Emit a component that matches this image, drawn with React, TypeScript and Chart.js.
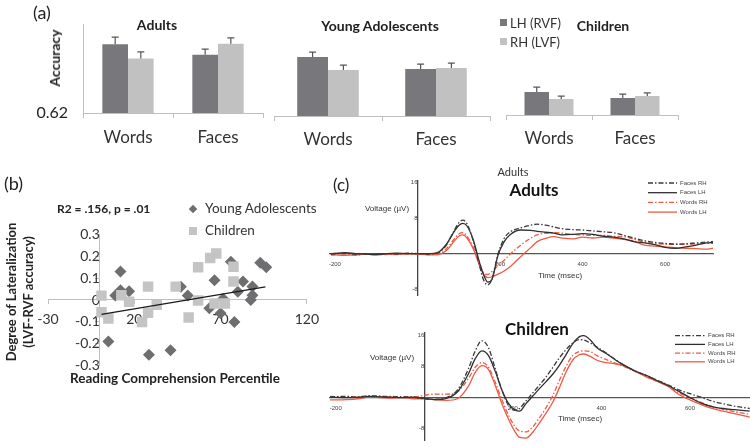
import React, { useEffect, useRef } from 'react';
import { Chart, registerables } from 'chart.js';

Chart.register(...registerables);

const FONT = 'Lato, "Open Sans", sans-serif';
const SMALL_FONT = '"Liberation Sans", Arial, sans-serif';
Chart.defaults.font.family = FONT;

// ---------- Panel (a) data ----------
const barCategories = ['Words', 'Faces'];
const adultsLH = [0.915, 0.870];
const adultsRH = [0.854, 0.918];
const adultsLHErr = [0.031, 0.025];
const adultsRHErr = [0.029, 0.025];
const youngLH = [0.861, 0.812];
const youngRH = [0.808, 0.816];
const youngLHErr = [0.02, 0.02];
const youngRHErr = [0.02, 0.02];
const childLH = [0.714, 0.689];
const childRH = [0.685, 0.698];
const childLHErr = [0.02, 0.016];
const childRHErr = [0.012, 0.012];
const accuracyTicks = [0.62];

// ---------- Panel (b) data ----------
const youngX = [12, 9, 12, 17, 5, 28.5, 41, 47, 51, 66.5, 76, 93, 96.5, 83, 88.5, 80, 88.5, 87.5, 71.5, 63.5, 70, 78];
const youngY = [0.13, 0.02, 0.045, 0.04, -0.19, -0.25, -0.23, 0.06, 0.02, 0.09, 0.175, 0.17, 0.15, 0.084, 0.062, 0.038, 0.022, 0.0, 0.006, -0.038, -0.06, -0.1];
const childX = [1, 1, 5, 12.5, 17, 28, 28, 24.5, 33, 44, 51.5, 57, 57, 64, 67.5, 77.5, 77.5, 66.5, 72.5];
const childY = [0.02, -0.056, -0.084, 0.022, -0.008, 0.061, -0.058, -0.1, -0.022, 0.061, -0.08, 0.15, -0.002, 0.192, 0.212, 0.152, 0.084, -0.016, -0.016];
const trendX = [1, 96];
const trendY = [-0.066, 0.06];
const scatterXTicks = [-30, 20, 70, 120];
const scatterYTicks = [0.3, 0.2, 0.1, 0, -0.1, -0.2, -0.3];

// ---------- Panel (c) data ----------
const erpTimeTicks = [-200, 200, 400, 600];
const erpVoltTicks = [16, 8, -8];

const adultTimes = [-210, -175, -150, -125, -100, -75, -50, -25, 0, 25, 50, 70, 90, 100, 110, 120, 135, 150, 160, 170, 180, 195, 210, 225, 250, 275, 290, 310, 330, 350, 375, 400, 425, 450, 475, 500, 525, 550, 575, 600, 625, 650, 675, 700, 716];
const adultFacesRH = [0.1, 0.2, 0, 0.1, 0, 0.1, 0, 0.2, 0.1, 0, 0.3, 2, 5.5, 7, 7.6, 6.8, 3, -2.5, -5.8, -6.9, -5.8, 0, 3.5, 5, 5.9, 6.5, 6.7, 6.5, 6.1, 5.7, 5.5, 5.4, 5.2, 5.0, 4.8, 4.2, 3.6, 3.0, 2.6, 2.4, 2.2, 2.3, 2.5, 2.7, 2.8];
const adultFacesLH = [0, 0.3, 0.1, 0, -0.1, 0.1, 0.2, 0.1, 0.1, 0.1, 0.4, 2.2, 5.2, 6.4, 6.9, 6.3, 3.2, -1.8, -4.6, -6.3, -5.8, -0.3, 2.8, 4.4, 5.4, 5.3, 5.1, 4.9, 4.7, 4.3, 4.4, 4.6, 4.4, 4.0, 3.8, 3.4, 2.8, 2.5, 2.1, 1.5, 1.3, 1.6, 2.0, 2.5, 2.6];
const adultWordsRH = [-0.2, 0, -0.3, 0.1, 0, -0.1, 0.1, 0, 0, -0.1, 0, 1.2, 3.5, 4.5, 4.8, 4.0, 1.5, -2, -4.2, -4.6, -4.0, -2.6, -1.4, 0, 2, 3.6, 4.3, 4.7, 4.8, 4.7, 4.4, 4.3, 4.2, 4.2, 4.0, 3.9, 3.3, 2.7, 2.4, 2.2, 2.2, 2.2, 2.3, 2.4, 2.4];
const adultWordsLH = [-0.1, -0.3, -0.2, 0, -0.2, 0, -0.1, 0.1, 0, -0.2, -0.1, 0.8, 3.0, 4.0, 4.3, 3.6, 1.2, -2.5, -4.5, -5.3, -5.1, -4.5, -3.8, -2.8, -0.6, 1.5, 2.8, 3.5, 3.9, 3.6, 3.4, 3.8, 3.6, 3.8, 3.6, 3.3, 2.8, 2.0, 1.8, 1.6, 1.4, 1.3, 1.2, 1.1, 1.3];

const childTimes = [-213, -175, -150, -125, -100, -75, -50, -25, 0, 25, 50, 75, 100, 115, 130, 145, 160, 175, 190, 205, 215, 230, 245, 260, 275, 290, 305, 320, 335, 350, 360, 375, 390, 410, 430, 450, 475, 500, 525, 550, 575, 600, 625, 650, 675, 700, 735];
const childFacesRH = [0.2, 0.3, 0.1, 0.4, 0.3, 0.1, 0.2, 0.1, -0.3, -0.4, 0, 2, 7.5, 12, 14.6, 12.8, 7.5, 2, -2, -3.3, -2.8, -0.8, 1.2, 3.2, 5.3, 7.7, 10.2, 12.3, 14, 14.9, 14.8, 14, 13, 11.5, 9.9, 8.4, 6.9, 5.7, 4.5, 3.3, 2.0, 1.0, 0.1, -0.9, -1.6, -2.2, -2.8];
const childFacesLH = [0.1, 0, 0.1, 0.3, 0.2, 0.1, 0, 0.1, -0.2, -0.5, -0.2, 1.5, 6.2, 10, 12, 10.8, 6.8, 2, -1.5, -3.2, -3.5, -1.5, 0.4, 2.3, 4.1, 6.0, 8.3, 11, 13.8, 15.6, 15.9, 14.8, 12.8, 11.4, 9.8, 8.4, 6.9, 5.8, 4.4, 3.1, 1.6, 0, -1.4, -2.3, -2.8, -3.1, -3.5];
const childWordsRH = [0.3, 0.1, 0.2, 0.5, 0.4, 0.3, 0.2, 0.1, 0.6, 0.9, 0.9, 1.5, 5, 7.8, 9, 7.8, 4, -0.5, -4.5, -7.5, -8.6, -8.8, -7.5, -5.2, -2.6, 0.5, 4.4, 8, 10.8, 11.8, 12, 11.8, 10.8, 9.8, 8.9, 8, 6.8, 5.6, 4.2, 3.0, 1.2, 0, -1.2, -2.3, -3.0, -3.6, -4.3];
const childWordsLH = [-0.6, -0.5, -0.3, 0.1, 0, -0.1, 0, -0.3, -0.3, -0.6, -0.7, -0.3, 3, 6.5, 8.2, 7.2, 3.2, -1.5, -5.5, -8.8, -10.2, -10.4, -8.9, -6.5, -4.0, -1.2, 2.5, 6.5, 9.6, 11.0, 11.2, 10.6, 9.6, 9.0, 8.7, 8.2, 6.8, 5.4, 4.2, 2.9, 0.8, -0.6, -1.8, -2.8, -3.5, -4.1, -5.0];

// ---------- styles ----------
const LH_COLOR = '#78787c';
const RH_COLOR = '#c1c1c1';
const AXIS = '#bfbfbf';
const DIAMOND = '#6e6e71';
const SQUARE = '#c4c4c4';
const BLACK = '#2e2e2e';
const RED = '#ef5a44';
const DASHDOT = [5, 2, 1.5, 2];

const errorBarPlugin = {
  id: 'errorBars',
  afterDatasetsDraw(chart: any) {
    const ctx = chart.ctx;
    const y = chart.scales.y;
    chart.data.datasets.forEach((ds: any, i: number) => {
      const meta = chart.getDatasetMeta(i);
      if (!ds.errors) return;
      meta.data.forEach((bar: any, j: number) => {
        const top = y.getPixelForValue(ds.data[j] + ds.errors[j]);
        ctx.save();
        ctx.strokeStyle = '#555';
        ctx.lineWidth = 1.2;
        ctx.beginPath();
        ctx.moveTo(bar.x, bar.y);
        ctx.lineTo(bar.x, top);
        ctx.moveTo(bar.x - 3.5, top);
        ctx.lineTo(bar.x + 3.5, top);
        ctx.stroke();
        ctx.restore();
      });
    });
  },
};

function barConfig(lh: number[], rh: number[], lhErr: number[], rhErr: number[], o: any): any {
  return {
    type: 'bar',
    data: {
      labels: barCategories,
      datasets: [
        { label: 'LH (RVF)', data: lh, errors: lhErr, backgroundColor: LH_COLOR, categoryPercentage: 0.57, barPercentage: 1.0 },
        { label: 'RH (LVF)', data: rh, errors: rhErr, backgroundColor: RH_COLOR, categoryPercentage: 0.57, barPercentage: 1.0 },
      ],
    },
    options: {
      responsive: false,
      animation: false,
      layout: { padding: { left: o.padLeft, right: o.padRight, top: o.padTop, bottom: 0 } },
      plugins: { legend: { display: false }, tooltip: { enabled: false } },
      scales: {
        x: {
          grid: { display: true, drawOnChartArea: false, offset: true, tickLength: 5, color: AXIS, lineWidth: 1 },
          border: { display: true, color: AXIS, width: 1 },
          ticks: { font: { size: 17, family: FONT }, color: '#333', padding: o.xPad },
          afterFit: (s: any) => { s.height = o.xHeight; },
        },
        y: {
          display: o.showY,
          min: 0.62,
          max: 1.0,
          grid: { display: false, drawTicks: false },
          border: { display: true, color: AXIS, width: 1 },
          ticks: { font: { size: 16, family: FONT }, color: '#222', padding: 15, callback: (v: any) => String(v) },
          afterBuildTicks: (s: any) => { s.ticks = accuracyTicks.map((v) => ({ value: v })); },
          afterFit: (s: any) => { s.width = o.yWidth; },
        },
      },
    },
    plugins: [errorBarPlugin],
  };
}

function scatterConfig(): any {
  return {
    type: 'scatter',
    data: {
      datasets: [
        { type: 'line', label: 'trend', data: trendX.map((x, i) => ({ x, y: trendY[i] })), borderColor: '#1a1a1a', borderWidth: 1.2, pointRadius: 0, order: 0 },
        { label: 'Children', data: childX.map((x, i) => ({ x, y: childY[i] })), pointStyle: 'rect', pointRadius: 7.4, backgroundColor: SQUARE, borderWidth: 0, order: 1 },
        { label: 'Young Adolescents', data: youngX.map((x, i) => ({ x, y: youngY[i] })), pointStyle: 'rectRot', pointRadius: 6, backgroundColor: DIAMOND, borderWidth: 0, order: 2 },
      ],
    },
    options: {
      responsive: false,
      animation: false,
      layout: { padding: { left: 48, right: 23, top: 44.3, bottom: 24.3 } },
      plugins: { legend: { display: false }, tooltip: { enabled: false } },
      scales: {
        x: {
          type: 'linear',
          position: { y: 0 },
          min: -30,
          max: 120,
          afterBuildTicks: (s: any) => { s.ticks = scatterXTicks.map((v) => ({ value: v })); },
          grid: { display: true, drawOnChartArea: false, tickLength: 4, color: AXIS },
          border: { display: true, color: AXIS, width: 1 },
          ticks: { display: false },
        },
        xLabels: {
          type: 'linear',
          axis: 'x',
          position: { y: 0 },
          min: -30,
          max: 120,
          z: 1,
          afterBuildTicks: (s: any) => { s.ticks = scatterXTicks.map((v) => ({ value: v })); },
          grid: { display: false, drawTicks: false },
          border: { display: false },
          ticks: { font: { size: 14, family: FONT }, color: '#333', padding: 11, callback: (v: any) => String(v) },
        },
        y: {
          type: 'linear',
          position: { x: 0 },
          min: -0.3,
          max: 0.3,
          afterBuildTicks: (s: any) => { s.ticks = scatterYTicks.map((v) => ({ value: v })); },
          grid: { display: true, drawOnChartArea: false, tickLength: 4, color: AXIS },
          border: { display: true, color: AXIS, width: 1 },
          ticks: { font: { size: 14, family: FONT }, color: '#333', padding: 9, callback: (v: any) => (Math.abs(v) < 1e-9 ? '0' : Number(v).toFixed(1)) },
        },
      },
    },
  };
}

function erpLegend(o: { x: number; y: number; gap: number; len: number; size: number }) {
  return {
    id: 'erpLegend',
    afterDraw(chart: any) {
      const ctx = chart.ctx;
      ctx.save();
      ctx.font = `${o.size}px ${SMALL_FONT}`;
      ctx.textBaseline = 'middle';
      chart.data.datasets.forEach((ds: any, i: number) => {
        const yy = o.y + i * o.gap;
        ctx.strokeStyle = ds.borderColor;
        ctx.lineWidth = ds.borderWidth;
        ctx.setLineDash(ds.borderDash || []);
        ctx.beginPath();
        ctx.moveTo(o.x, yy);
        ctx.lineTo(o.x + o.len, yy);
        ctx.stroke();
        ctx.setLineDash([]);
        ctx.fillStyle = '#444';
        ctx.fillText(ds.label, o.x + o.len + 3, yy);
      });
      ctx.restore();
    },
  };
}

function erpConfig(times: number[], fRH: number[], fLH: number[], wRH: number[], wLH: number[], o: any): any {
  const series = [
    { label: 'Faces RH', values: fRH, color: '#3a3a3a', dash: DASHDOT },
    { label: 'Faces LH', values: fLH, color: BLACK, dash: [] as number[] },
    { label: 'Words RH', values: wRH, color: RED, dash: DASHDOT },
    { label: 'Words LH', values: wLH, color: RED, dash: [] as number[] },
  ];
  return {
    type: 'line',
    data: {
      datasets: series.map((s) => ({
        label: s.label,
        data: times.map((t, i) => ({ x: t, y: s.values[i] })),
        borderColor: s.color,
        borderDash: s.dash,
        borderWidth: 1.3,
        pointRadius: 0,
        fill: false,
        cubicInterpolationMode: 'monotone',
      })),
    },
    options: {
      responsive: false,
      animation: false,
      layout: { padding: o.padding },
      plugins: { legend: { display: false }, tooltip: { enabled: false } },
      scales: {
        x: {
          type: 'linear',
          position: { y: 0 },
          min: o.xMin,
          max: o.xMax,
          afterBuildTicks: (s: any) => { s.ticks = erpTimeTicks.map((v) => ({ value: v })); },
          grid: { display: false, drawTicks: false },
          border: { display: true, color: '#555', width: 1.3 },
          ticks: { font: { size: 6, family: SMALL_FONT }, color: '#444', padding: 7, callback: (v: any) => String(v) },
        },
        y: {
          type: 'linear',
          position: { x: 0 },
          min: o.yMin,
          max: o.yMax,
          afterBuildTicks: (s: any) => { s.ticks = erpVoltTicks.map((v) => ({ value: v })); },
          grid: { display: false, drawTicks: false },
          border: { display: true, color: '#444', width: 1.3 },
          ticks: { font: { size: 6, family: SMALL_FONT }, color: '#444', padding: 3, callback: (v: any) => String(v) },
        },
      },
    },
    plugins: [erpLegend(o.legend)],
  };
}

function ChartBox({ config, left, top, width, height }: { config: () => any; left: number; top: number; width: number; height: number }) {
  const ref = useRef<HTMLCanvasElement>(null);
  useEffect(() => {
    const chart = new Chart(ref.current as HTMLCanvasElement, config());
    return () => chart.destroy();
  }, []);
  return (
    <div style={{ position: 'absolute', left, top, width, height }}>
      <canvas ref={ref} width={width} height={height} style={{ width, height, display: 'block' }} />
    </div>
  );
}

function T({ x, y, s, size, bold, color = '#222', anchor = 'middle', rot, family = FONT }: any) {
  const tx = anchor === 'start' ? '0' : anchor === 'end' ? '-100%' : '-50%';
  return (
    <div
      style={{
        position: 'absolute',
        left: x,
        top: y,
        transform: `translate(${tx}, -50%)${rot ? ` rotate(${rot}deg)` : ''}`,
        fontSize: size,
        fontWeight: bold ? 700 : 400,
        color,
        fontFamily: family,
        whiteSpace: 'nowrap',
        lineHeight: 1.15,
        textAlign: 'center',
      }}
    >
      {s}
    </div>
  );
}

export default function App() {
  return (
    <div style={{ position: 'absolute', left: 0, top: 0, width: 750, height: 447, background: '#fff', overflow: 'hidden', fontFamily: FONT }}>
      {/* Panel (a) */}
      <ChartBox left={0} top={0} width={270} height={150}
        config={() => barConfig(adultsLH, adultsRH, adultsLHErr, adultsRHErr, { showY: true, padLeft: 0, padRight: 7, padTop: 20, xHeight: 37, xPad: 9, yWidth: 83 })} />
      <ChartBox left={265} top={0} width={235} height={150}
        config={() => barConfig(youngLH, youngRH, youngLHErr, youngRHErr, { showY: false, padLeft: 9, padRight: 10, padTop: 23, xHeight: 34, xPad: 8, yWidth: 0 })} />
      <ChartBox left={497} top={0} width={200} height={150}
        config={() => barConfig(childLH, childRH, childLHErr, childRHErr, { showY: false, padLeft: 9, padRight: 19, padTop: 22, xHeight: 35, xPad: 8, yWidth: 0 })} />
      <T x={33} y={12} s="(a)" size={18} anchor="start" />
      <T x={157} y={25} s="Adults" size={14} bold />
      <T x={380} y={26} s="Young Adolescents" size={14} bold />
      <T x={603} y={26} s="Children" size={14} bold />
      <T x={55} y={58} s="Accuracy" size={14} bold rot={-90} />
      <div style={{ position: 'absolute', left: 500, top: 19, width: 7, height: 7, background: LH_COLOR }} />
      <div style={{ position: 'absolute', left: 500, top: 38, width: 7, height: 7, background: RH_COLOR }} />
      <T x={510} y={22.5} s="LH (RVF)" size={13} anchor="start" color="#333" />
      <T x={510} y={41.5} s="RH (LVF)" size={13} anchor="start" color="#333" />

      {/* Panel (b) */}
      <ChartBox left={0} top={190} width={330} height={200} config={scatterConfig} />
      <T x={4} y={183} s="(b)" size={18} anchor="start" />
      <T x={57} y={209} s="R2 = .156, p = .01" size={12} bold anchor="start" />
      <div style={{ position: 'absolute', left: 190, top: 206, width: 6, height: 6, background: DIAMOND, transform: 'rotate(45deg)' }} />
      <T x={205} y={209} s="Young Adolescents" size={13.5} anchor="start" color="#333" />
      <div style={{ position: 'absolute', left: 189, top: 227, width: 8, height: 8, background: SQUARE }} />
      <T x={205} y={231} s="Children" size={13.5} anchor="start" color="#333" />
      <T x={11} y={292} s="Degree of Lateralization" size={13} bold rot={-90} />
      <T x={28} y={292} s="(LVF-RVF accuracy)" size={13} bold rot={-90} />
      <T x={175} y={379} s="Reading Comprehension Percentile" size={13.5} bold />

      {/* Panel (c) */}
      <ChartBox left={320} top={160} width={430} height={145}
        config={() => erpConfig(adultTimes, adultFacesRH, adultFacesLH, adultWordsRH, adultWordsLH, {
          padding: { left: 10, right: 37, top: 20.6, bottom: 10 }, xMin: -212, xMax: 716, yMin: -9.2, yMax: 16.5,
          legend: { x: 328, y: 23, gap: 9.7, len: 29, size: 6 },
        })} />
      <ChartBox left={320} top={310} width={430} height={137}
        config={() => erpConfig(childTimes, childFacesRH, childFacesLH, childWordsRH, childWordsLH, {
          padding: { left: 10, right: 0, top: 23, bottom: 4 }, xMin: -213, xMax: 735.6, yMin: -11, yMax: 16.6,
          legend: { x: 355, y: 25.7, gap: 8.7, len: 30, size: 6 },
        })} />
      <T x={333} y={185} s="(c)" size={17} anchor="start" />
      <T x={513} y={172} s="Adults" size={11} color="#333" />
      <T x={534} y={190} s="Adults" size={17} bold color="#111" />
      <T x={387} y={209} s="Voltage (µV)" size={8} color="#333" family={SMALL_FONT} />
      <T x={560} y={276} s="Time (msec)" size={8} color="#333" family={SMALL_FONT} />
      <T x={537} y={329} s="Children" size={17} bold color="#111" />
      <T x={392} y={358} s="Voltage (µV)" size={8} color="#333" family={SMALL_FONT} />
      <T x={580} y={419} s="Time (msec)" size={8} color="#333" family={SMALL_FONT} />
    </div>
  );
}
